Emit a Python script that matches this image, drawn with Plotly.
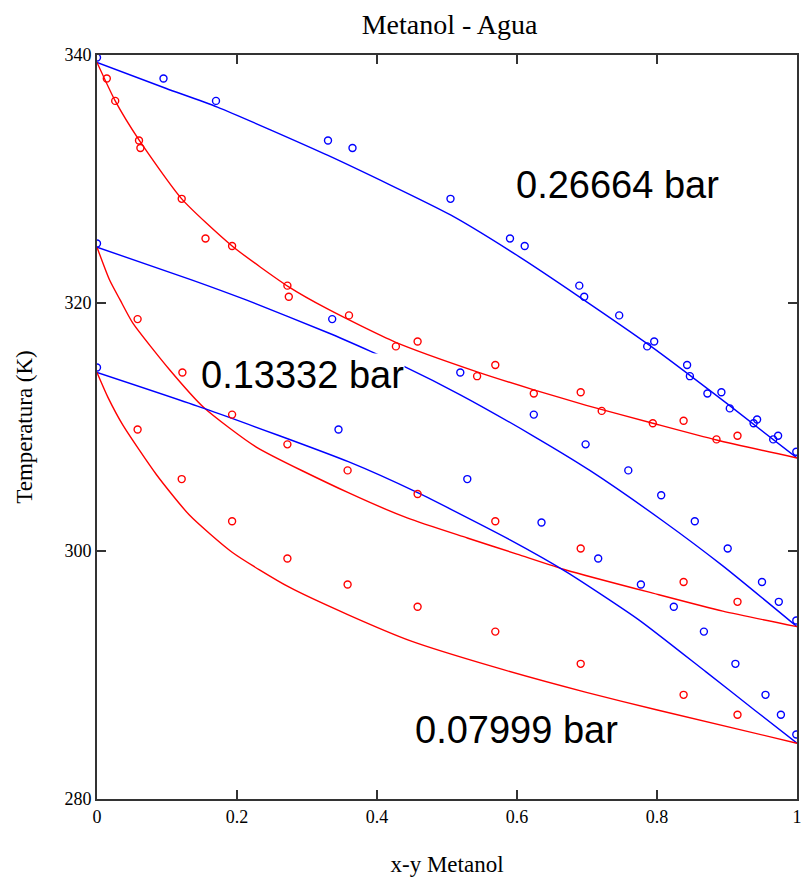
import plotly.graph_objects as go

# ---------------- data ----------------
# 0.26664 bar
vap1_y = [0.0, 0.095, 0.170, 0.330, 0.365, 0.505, 0.590, 0.611, 0.689, 0.696, 0.746, 0.786, 0.796,
          0.843, 0.847, 0.872, 0.892, 0.904, 0.938, 0.943, 0.966, 0.973, 0.999]
vap1_T = [339.8, 338.1, 336.3, 333.1, 332.5, 328.4, 325.2, 324.6, 321.4, 320.5, 319.0, 316.5, 316.9,
          315.0, 314.1, 312.7, 312.8, 311.5, 310.3, 310.6, 309.0, 309.3, 308.0]
liq1_x = [0.014, 0.026, 0.060, 0.062, 0.121, 0.155, 0.193, 0.272, 0.274, 0.360, 0.427, 0.458, 0.543,
          0.569, 0.624, 0.691, 0.721, 0.794, 0.838, 0.885, 0.915]
liq1_T = [338.1, 336.3, 333.1, 332.5, 328.4, 325.2, 324.6, 321.4, 320.5, 319.0, 316.5, 316.9, 314.1,
          315.0, 312.7, 312.8, 311.3, 310.3, 310.5, 309.0, 309.3]
dew1_y = [0.0, 0.099, 0.172, 0.330, 0.505, 0.604, 0.689, 0.789, 0.902, 1.0]
dew1_T = [339.4, 337.3, 335.8, 331.9, 327.1, 323.7, 320.5, 316.6, 311.8, 307.5]
bub1_x = [0.0, 0.026, 0.060, 0.121, 0.193, 0.274, 0.330, 0.426, 0.543, 0.624, 0.699, 0.794, 0.885, 1.0]
bub1_T = [339.4, 336.3, 333.15, 328.4, 324.6, 321.3, 319.5, 316.85, 314.45, 313.0, 311.75, 310.3, 308.95, 307.5]

# 0.13332 bar
vap2_y = [0.0, 0.336, 0.519, 0.624, 0.698, 0.759, 0.806, 0.854, 0.901, 0.950, 0.974, 0.999]
vap2_T = [324.8, 318.7, 314.4, 311.0, 308.6, 306.5, 304.5, 302.4, 300.2, 297.5, 295.9, 294.4]
liq2_x = [0.058, 0.122, 0.193, 0.272, 0.358, 0.458, 0.569, 0.691, 0.838, 0.915]
liq2_T = [318.7, 314.4, 311.0, 308.6, 306.5, 304.6, 302.4, 300.2, 297.5, 295.9]
dew2_y = [0.0, 0.136, 0.213, 0.330, 0.391, 0.440, 0.519, 0.624, 0.704, 0.809, 0.894, 1.0]
dew2_T = [324.5, 321.85, 320.25, 317.6, 316.1, 314.85, 312.6, 309.25, 306.5, 302.4, 298.8, 293.9]
bub2_x = [0.0, 0.018, 0.033, 0.051, 0.104, 0.153, 0.227, 0.359, 0.444, 0.529, 0.600, 0.671, 0.794, 0.894, 1.0]
bub2_T = [324.5, 321.85, 320.25, 318.4, 314.6, 311.55, 308.4, 304.7, 302.65, 301.05, 299.75, 298.45, 296.6, 295.15, 293.9]

# 0.07999 bar
vap3_y = [0.0, 0.345, 0.529, 0.635, 0.716, 0.777, 0.824, 0.867, 0.912, 0.955, 0.977, 0.999]
vap3_T = [314.8, 309.8, 305.8, 302.3, 299.4, 297.3, 295.5, 293.5, 290.9, 288.4, 286.8, 285.2]
liq3_x = [0.058, 0.121, 0.193, 0.272, 0.358, 0.458, 0.569, 0.691, 0.838, 0.915]
liq3_T = [309.8, 305.8, 302.4, 299.4, 297.3, 295.5, 293.5, 290.9, 288.4, 286.8]
dew3_y = [0.0, 0.153, 0.359, 0.458, 0.590, 0.671, 0.774, 0.870, 0.941, 1.0]
dew3_T = [314.4, 311.5, 307.2, 304.7, 300.9, 298.3, 294.45, 290.25, 287.1, 284.5]
bub3_x = [0.0, 0.016, 0.037, 0.085, 0.132, 0.193, 0.274, 0.359, 0.448, 0.567, 0.699, 0.799, 1.0]
bub3_T = [314.4, 312.35, 310.15, 306.15, 302.9, 299.9, 297.1, 294.85, 292.75, 290.65, 288.6, 287.2, 284.5]

labels = ["0.26664 bar", "0.13332 bar", "0.07999 bar"]
label_x = [0.743, 0.2936, 0.599]
label_T = [329.48, 314.23, 285.6]

x_ticks = [0, 0.2, 0.4, 0.6, 0.8, 1]
y_ticks = [280, 300, 320, 340]

# ---------------- figure ----------------
BLUE = "rgb(0,0,255)"
RED = "rgb(255,0,0)"
fig = go.Figure()

curves = [(dew1_y, dew1_T, BLUE), (bub1_x, bub1_T, RED),
          (dew2_y, dew2_T, BLUE), (bub2_x, bub2_T, RED),
          (dew3_y, dew3_T, BLUE), (bub3_x, bub3_T, RED)]
for xs, ts, c in curves:
    fig.add_trace(go.Scatter(x=xs, y=ts, mode="lines",
                             line=dict(color=c, width=1.4, shape="spline", smoothing=0.6),
                             hoverinfo="skip", showlegend=False))

pts = [(vap1_y, vap1_T, BLUE), (liq1_x, liq1_T, RED),
       (vap2_y, vap2_T, BLUE), (liq2_x, liq2_T, RED),
       (vap3_y, vap3_T, BLUE), (liq3_x, liq3_T, RED)]
for xs, ts, c in pts:
    fig.add_trace(go.Scatter(x=xs, y=ts, mode="markers",
                             marker=dict(symbol="circle-open", size=7, color=c, line=dict(width=1.4, color=c)),
                             showlegend=False))

for txt, lx, lt in zip(labels, label_x, label_T):
    fig.add_annotation(x=lx, y=lt, xref="x", yref="y", text=txt, showarrow=False,
                       xanchor="center", yanchor="middle", bgcolor="white", borderpad=0,
                       font=dict(family="Liberation Sans, Arial", size=38, color="black"))

SERIF = "Liberation Serif, Times New Roman, serif"
AX = "#333333"
fig.update_layout(
    width=810, height=882,
    margin=dict(l=97, r=8, t=55, b=83, pad=0),
    paper_bgcolor="white", plot_bgcolor="white",
    showlegend=False,
    title=dict(text="Metanol - Agua", x=(97 + 705 / 2) / 810, xanchor="center",
               y=1 - 24 / 882, yanchor="middle", yref="container",
               font=dict(family=SERIF, size=28, color="black")),
    xaxis=dict(range=[0, 1], tickvals=x_ticks, ticktext=[f"{v:g}" for v in x_ticks],
               ticks="inside", ticklen=9, tickwidth=1.5, tickcolor=AX,
               showline=True, linecolor=AX, linewidth=2, mirror="ticks",
               showgrid=False, zeroline=False,
               tickfont=dict(family=SERIF, size=18, color="black"),
               title=dict(text="x-y Metanol", standoff=30,
                          font=dict(family=SERIF, size=23, color="black"))),
    yaxis=dict(range=[280, 340], tickvals=y_ticks, ticktext=[str(v) for v in y_ticks],
               ticks="inside", ticklen=9, tickwidth=1.5, tickcolor=AX,
               showline=True, linecolor=AX, linewidth=2, mirror="ticks",
               showgrid=False, zeroline=False,
               tickfont=dict(family=SERIF, size=18, color="black"),
               title=dict(text="Temperatura (K)", standoff=25,
                          font=dict(family=SERIF, size=23, color="black"))),
)

fig.write_html("out.html")
